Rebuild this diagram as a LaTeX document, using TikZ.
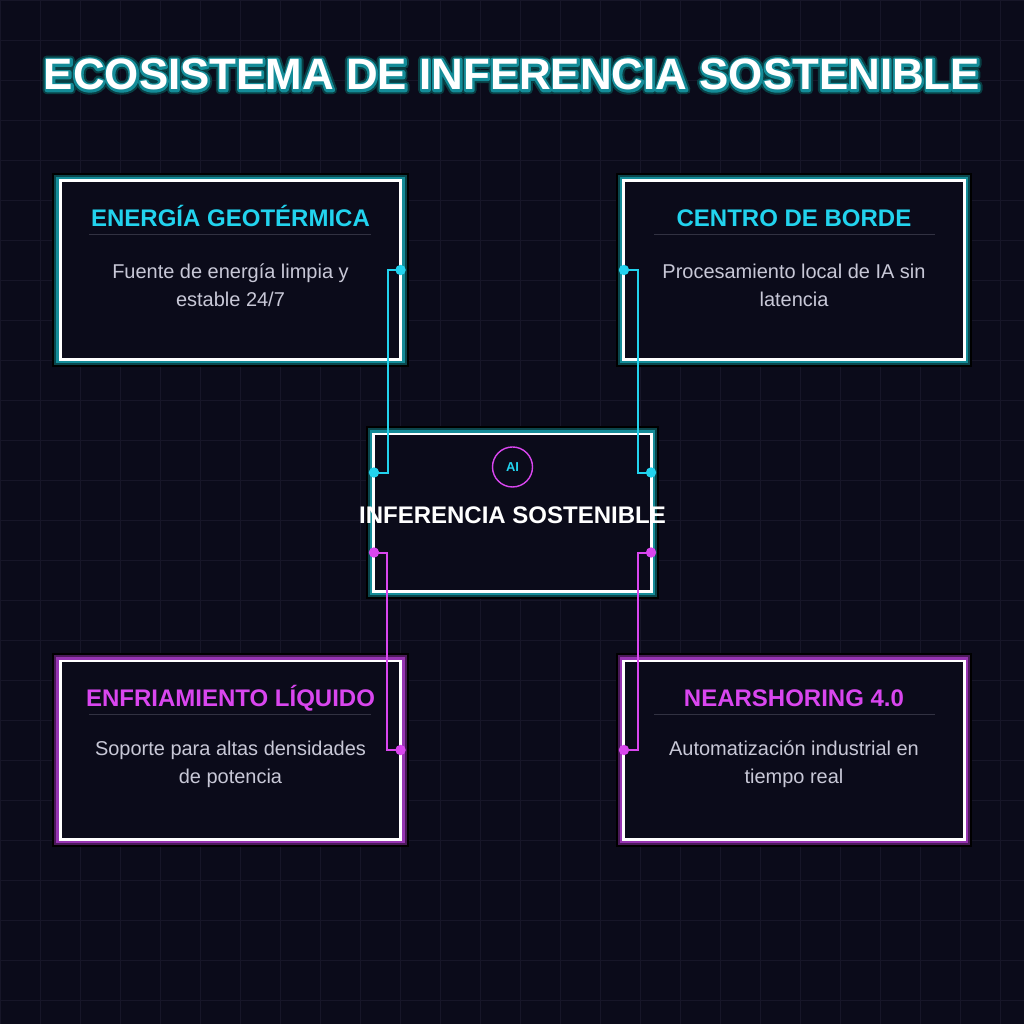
\documentclass[tikz,border=0pt]{standalone}
\usepackage{fontspec}
\setmainfont{Liberation Sans}
\usetikzlibrary{positioning,calc}
\definecolor{night}{RGB}{11,11,26}
\definecolor{gridline}{RGB}{23,22,40}
\definecolor{neon}{RGB}{34,211,238}
\definecolor{orchid}{RGB}{217,70,239}
\definecolor{mist}{RGB}{200,200,215}
\definecolor{rulegray}{RGB}{50,50,66}
\definecolor{lagoon}{RGB}{20,140,152}
\definecolor{plum}{RGB}{150,52,178}
% stroked text: width, then text
\newcommand{\strokedtext}[2]{\special{pdf:literal direct 1 j #1 w 1 Tr}#2\special{pdf:literal direct 0 Tr}}
\newcommand{\headtext}{ECOSISTEMA DE INFERENCIA SOSTENIBLE}
\tikzset{
  card/.style={draw=white,line width=2.1pt,fill=night,outer sep=0pt,
    minimum width=8.5cm,minimum height=4.45cm,
    preaction={draw=black,line width=11.4pt},
    preaction={draw=#1!50!black,line width=8.5pt},
    preaction={draw=#1,line width=5.7pt}},
  card/.default=lagoon,
  cardtitle/.style={text=#1,anchor=base,inner sep=0pt,
    font=\fontsize{17.07}{20}\selectfont\bfseries},
  cardtitle/.default=neon,
  carddesc/.style={text=mist,align=center,inner sep=0pt,
    font=\fontsize{14.2}{19.9}\selectfont},
  divider/.style={draw=rulegray,line width=0.7pt},
  link/.style={draw=#1,line width=1.42pt},
  link/.default=neon,
  dot/.style={fill=#1},
  aibadge/.style={circle,draw=orchid,line width=1pt,minimum size=1cm,inner sep=0pt,
    text=neon,font=\fontsize{9.2}{10}\selectfont\bfseries},
  headline/.style={anchor=base,inner sep=0pt,
    font=\fontsize{31.2}{34}\selectfont\bfseries},
}
\begin{document}
\begin{tikzpicture}[x={(0.025cm,0)},y={(0,-0.025cm)}]
  % background and grid
  \fill[night] (0,0) rectangle (1024,1024);
  \useasboundingbox (0,0) rectangle (1024,1024);
  \foreach \k in {0,40,...,1000} {
    \draw[gridline,line width=0.7pt] (\k,0) -- (\k,1024);
    \draw[gridline,line width=0.7pt] (0,\k) -- (1024,\k);
  }

  % title with glow
  \coordinate (ttl) at (512,90);
  \node[headline,text=lagoon!45!black] (titleGlow) at (ttl) {\strokedtext{6}{\headtext}};
  \node[headline,text=lagoon] (titleEdge) at (ttl) {\strokedtext{3.2}{\headtext}};
  \node[headline,text=white] (title) at (ttl) {\headtext};

  % cards
  \node[card=lagoon] (geo) at (230.5,270) {};
  \node[card=lagoon] (borde) at (794,270) {};
  \node[card=plum] (frio) at (230.5,750) {};
  \node[card=plum] (near) at (794,750) {};
  \node[card=lagoon,minimum width=6.925cm,minimum height=3.925cm] (core) at (512.5,512.5) {};

  % card texts
  \node[cardtitle=neon] (geoT) at ($(geo.north)+(0,46)$) {ENERGÍA GEOTÉRMICA};
  \draw[divider] ($(geo.north west)+(29,54)$) -- ($(geo.north east)+(-30,54)$);
  \node[carddesc] (geoD) at ($(geo.center)+(0,15)$) {Fuente de energía limpia y\\estable 24/7};

  \node[cardtitle=neon] (bordeT) at ($(borde.north)+(0,46)$) {CENTRO DE BORDE};
  \draw[divider] ($(borde.north west)+(30,54)$) -- ($(borde.north east)+(-29,54)$);
  \node[carddesc] (bordeD) at ($(borde.center)+(0,15)$) {Procesamiento local de IA sin\\latencia};

  \node[cardtitle=orchid] (frioT) at ($(frio.north)+(0,46)$) {ENFRIAMIENTO LÍQUIDO};
  \draw[divider] ($(frio.north west)+(29,54)$) -- ($(frio.north east)+(-30,54)$);
  \node[carddesc] (frioD) at ($(frio.center)+(0,14)$) {Soporte para altas densidades\\de potencia};

  \node[cardtitle=orchid] (nearT) at ($(near.north)+(0,46)$) {NEARSHORING 4.0};
  \draw[divider] ($(near.north west)+(30,54)$) -- ($(near.north east)+(-29,54)$);
  \node[carddesc] (nearD) at ($(near.center)+(0,14)$) {Automatización industrial en\\tiempo real};

  % core
  \node[aibadge] (ai) at ($(core.north)+(0,33)$) {AI};
  \node[headline,text=white,font=\fontsize{17.07}{20}\selectfont\bfseries] (coreT)
    at ($(core.center)+(0,10.5)$) {INFERENCIA SOSTENIBLE};

  % connectors
  \coordinate (coreNW) at ($(core.west)+(0,-40)$);
  \coordinate (coreSW) at ($(core.west)+(0,40)$);
  \coordinate (coreNE) at ($(core.east)+(0,-40)$);
  \coordinate (coreSE) at ($(core.east)+(0,40)$);
  \draw[link=neon] (geo.east) -- ++(-13,0) |- (coreNW);
  \draw[link=neon] (borde.west) -- ++(14,0) |- (coreNE);
  \draw[link=orchid] (frio.east) -- ++(-14,0) |- (coreSW);
  \draw[link=orchid] (near.west) -- ++(14,0) |- (coreSE);
  \foreach \p in {geo.east,borde.west,coreNW,coreNE}
    \fill[dot=neon] (\p) circle[radius=1.3mm];
  \foreach \p in {frio.east,near.west,coreSW,coreSE}
    \fill[dot=orchid] (\p) circle[radius=1.3mm];
\end{tikzpicture}
\end{document}
